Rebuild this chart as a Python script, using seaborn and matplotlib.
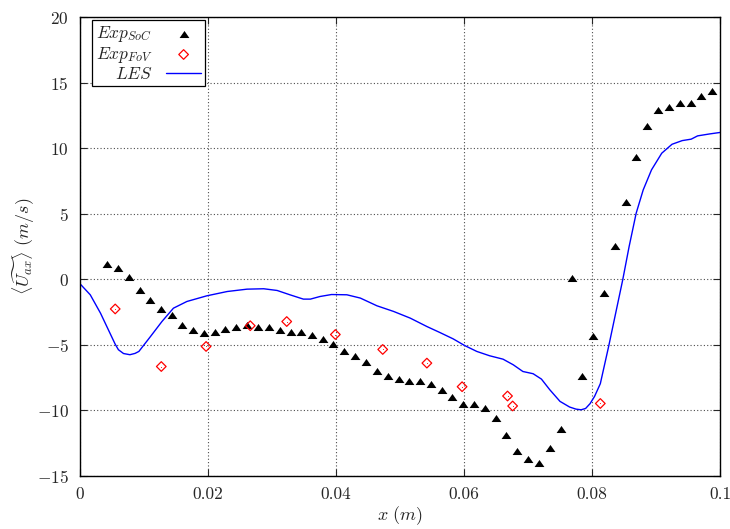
import matplotlib
matplotlib.use("Agg")
import matplotlib.pyplot as plt
import seaborn as sns

# ============================
# DATA
# ============================
soc_x = [0.00424, 0.0059, 0.0076, 0.0093, 0.0110, 0.0126, 0.0143, 0.0160, 0.0177, 0.0194,
         0.0211, 0.0227, 0.0244, 0.0261, 0.0278, 0.0295, 0.0312, 0.0329, 0.0346, 0.0363,
         0.0379, 0.0396, 0.0413, 0.0430, 0.0447, 0.0464, 0.0481, 0.0498, 0.0514, 0.0532,
         0.0548, 0.0565, 0.0582, 0.0599, 0.0615, 0.0633, 0.0650, 0.0666, 0.0683, 0.0700,
         0.0717, 0.0734, 0.0751, 0.0768, 0.0784, 0.0802, 0.0819, 0.0836, 0.0853, 0.0869,
         0.0886, 0.0903, 0.0920, 0.0937, 0.0954, 0.0971, 0.0988]
soc_y = [1.18, 0.88, 0.21, -0.80, -1.56, -2.25, -2.71, -3.45, -3.85, -4.08,
         -4.02, -3.80, -3.62, -3.47, -3.60, -3.67, -3.85, -3.98, -4.00, -4.25,
         -4.56, -4.94, -5.43, -5.83, -6.27, -6.97, -7.36, -7.61, -7.76, -7.79,
         -7.97, -8.42, -9.01, -9.49, -9.49, -9.85, -10.61, -11.88, -13.07, -13.74,
         -14.01, -12.90, -11.39, 0.09, -7.38, -4.31, -1.05, 2.55, 5.93, 9.31,
         11.72, 12.92, 13.17, 13.43, 13.43, 13.99, 14.34]

fov_x = [0.0055, 0.0127, 0.0197, 0.0266, 0.0323, 0.0399, 0.0473, 0.0542,
         0.0597, 0.0668, 0.0676, 0.0813]
fov_y = [-2.26, -6.65, -5.12, -3.54, -3.22, -4.21, -5.35, -6.39,
         -8.19, -8.90, -9.66, -9.47]

les_x = [0.0, 0.0016, 0.0032, 0.0048, 0.0055, 0.0060, 0.0068, 0.0078, 0.0086, 0.0092,
         0.0110, 0.0128, 0.0146, 0.0167, 0.0198, 0.0230, 0.0261, 0.0287, 0.0308, 0.0328,
         0.0349, 0.0360, 0.0375, 0.0393, 0.0417, 0.0438, 0.0464, 0.0490, 0.0516, 0.0542,
         0.0562, 0.0583, 0.0601, 0.0620, 0.0640, 0.0661, 0.0677, 0.0692, 0.0708, 0.0721,
         0.0734, 0.0750, 0.0765, 0.0775, 0.0783, 0.0790, 0.0797, 0.0804, 0.0813, 0.0826,
         0.0837, 0.0848, 0.0858, 0.0869, 0.0880, 0.0893, 0.0909, 0.0925, 0.0941, 0.0955,
         0.0965, 0.0984, 0.1]
les_y = [-0.34, -1.18, -2.58, -4.23, -4.95, -5.37, -5.66, -5.75, -5.65, -5.50,
         -4.37, -3.22, -2.20, -1.69, -1.26, -0.93, -0.75, -0.72, -0.85, -1.18,
         -1.51, -1.51, -1.31, -1.16, -1.18, -1.43, -2.02, -2.45, -2.96, -3.60,
         -4.05, -4.54, -5.05, -5.50, -5.83, -6.09, -6.52, -7.03, -7.20, -7.61,
         -8.42, -9.31, -9.74, -9.90, -9.95, -9.85, -9.48, -8.93, -7.96, -5.12,
         -2.58, -0.04, 2.50, 5.04, 6.82, 8.35, 9.62, 10.30, 10.58, 10.69,
         10.94, 11.09, 11.20]

xticks = [0.0, 0.02, 0.04, 0.06, 0.08, 0.1]
xtick_labels = ["0", "0.02", "0.04", "0.06", "0.08", "0.1"]
yticks = [-15, -10, -5, 0, 5, 10, 15, 20]
ytick_labels = ["$-15$", "$-10$", "$-5$", "$0$", "$5$", "$10$", "$15$", "$20$"]

# ============================
# STYLE
# ============================
sns.set_style("ticks")
plt.rcParams["font.family"] = ["serif"]
plt.rcParams["font.serif"] = ["cmr10", "DejaVu Serif"]
plt.rcParams["mathtext.fontset"] = "cm"
plt.rcParams["axes.formatter.use_mathtext"] = True

# flattened triangle like gnuplot's
tri = [(-1.0, -0.72), (1.0, -0.72), (0.0, 0.72), (-1.0, -0.72)]

fig = plt.figure(figsize=(7.3, 5.29), dpi=100)
ax = fig.add_axes([0.1096, 0.1002, 0.8767, 0.8675])

sns.scatterplot(x=soc_x, y=soc_y, ax=ax, marker=tri, color="black",
                s=50, linewidth=0, label="$Exp_{SoC}$")
sns.scatterplot(x=fov_x, y=fov_y, ax=ax, marker="D", color="red",
                facecolor="none", edgecolor="red", s=24, linewidth=0.9,
                label="$Exp_{FoV}$")
ax.scatter(fov_x, fov_y, marker=".", color="red", s=1.5, linewidths=0)
sns.lineplot(x=les_x, y=les_y, ax=ax, color="blue", linewidth=1.0,
             sort=False, label="$LES$")

ax.set_xlim(0, 0.1)
ax.set_ylim(-15, 20)
ax.set_xticks(xticks)
ax.set_xticklabels(xtick_labels)
ax.set_yticks(yticks)
ax.set_yticklabels(ytick_labels)
ax.tick_params(direction="in", top=True, right=True, length=5, width=0.8,
               labelsize=12.5, pad=8)

ax.grid(True, color="0.3", linestyle=(0, (1, 2)), linewidth=0.8)
for sp in ax.spines.values():
    sp.set_visible(True)
    sp.set_linewidth(1.0)
    sp.set_color("black")

ax.set_xlabel(r"$x\ (m)$", fontsize=13, labelpad=1)
ax.set_ylabel(r"$\langle\widetilde{U_{ax}}\rangle\ (m/s)$", fontsize=13, labelpad=0)

handles, labels = ax.get_legend_handles_labels()
order = ["$Exp_{SoC}$", "$Exp_{FoV}$", "$LES$"]
hmap = dict(zip(labels, handles))
leg = ax.legend([hmap[k] for k in order], order, loc="upper left",
                bbox_to_anchor=(0.018, 0.994), borderaxespad=0,
                markerfirst=False, fontsize=12.5, frameon=True, fancybox=False,
                handlelength=2.0, handletextpad=0.8, labelspacing=0.05,
                borderpad=0.25)
leg.get_frame().set_edgecolor("black")
leg.get_frame().set_linewidth(0.9)
leg.get_frame().set_alpha(1)

fig.savefig("out.png", dpi=100)
